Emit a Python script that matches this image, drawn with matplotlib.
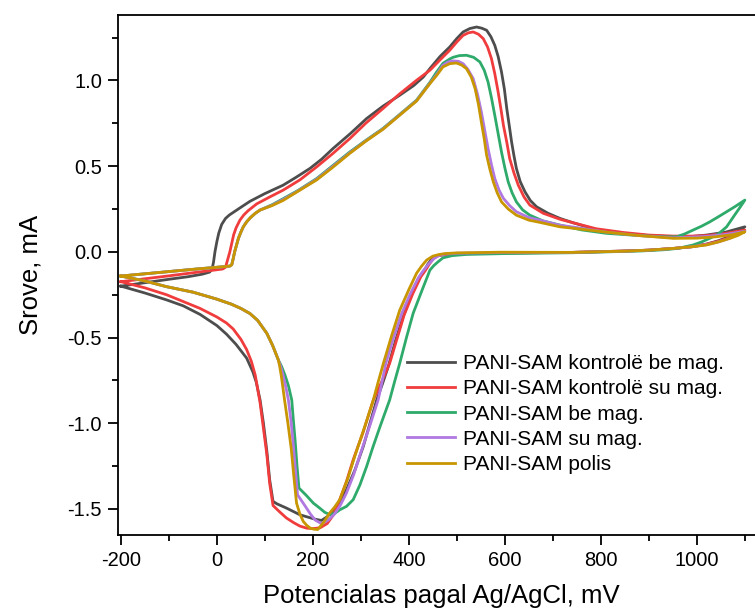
import matplotlib
matplotlib.use("Agg")
import matplotlib.pyplot as plt
from matplotlib.ticker import MultipleLocator, FormatStrFormatter

plt.rcParams["font.family"] = ["Liberation Sans", "DejaVu Sans"]
plt.rcParams["axes.unicode_minus"] = False

# potential (mV) / current (mA); anodic sweep then cathodic sweep
k_x = [-200, -150, -100, -60, -30, -15, -10, -7, -4, 0, 4, 10, 18, 26, 34, 50, 69, 100, 138, 165, 194, 218, 242,
       278, 312, 346, 381, 410, 430, 444, 465, 485, 500, 513, 527, 541, 552, 562, 571, 579, 586, 593, 599, 604,
       609, 614, 619, 624, 632, 642, 653, 666, 690, 715, 742, 790, 847, 900, 951, 990, 1020, 1060, 1100,
       1085, 1069, 1045, 1020, 990, 951, 900, 850, 742, 600, 500, 475, 460, 450, 440, 432, 423, 405, 388, 372,
       357, 345, 333, 320, 305, 288, 270, 256, 243, 230, 218, 205, 190, 173, 145, 125, 117, 110, 104, 97, 90,
       82, 75, 62, 40, 20, 0, -35, -70, -105, -150, -200]
k_y = [-0.20, -0.18, -0.16, -0.145, -0.13, -0.118, -0.10, -0.06, 0.0, 0.06, 0.11, 0.16, 0.195, 0.215, 0.23, 0.26,
       0.295, 0.34, 0.389, 0.435, 0.487, 0.54, 0.603, 0.69, 0.778, 0.85, 0.914, 0.97, 1.02, 1.07, 1.14, 1.195,
       1.245, 1.283, 1.303, 1.312, 1.305, 1.293, 1.255, 1.205, 1.14, 1.05, 0.95, 0.836, 0.74, 0.642, 0.56,
       0.487, 0.41, 0.35, 0.30, 0.263, 0.225, 0.195, 0.17, 0.13, 0.108, 0.095, 0.088, 0.09, 0.098, 0.115, 0.146,
       0.115, 0.09, 0.065, 0.045, 0.03, 0.02, 0.01, 0.005, -0.003, -0.006, -0.012, -0.016, -0.022, -0.035,
       -0.07, -0.11, -0.145, -0.25, -0.378, -0.52, -0.67, -0.77, -0.864, -0.99, -1.136, -1.27, -1.388, -1.46,
       -1.505, -1.545, -1.567, -1.56, -1.548, -1.534, -1.495, -1.47, -1.456, -1.33, -1.16, -1.0, -0.864, -0.76,
       -0.70, -0.62, -0.54, -0.48, -0.43, -0.365, -0.315, -0.28, -0.24, -0.20]

r_x = [-200, -150, -100, -50, -10, 12, 18, 22, 25, 27, 31, 35, 40, 48, 56, 65, 83, 110, 138, 173, 208, 240, 277,
       310, 346, 380, 416, 444, 465, 485, 500, 513, 524, 534, 545, 555, 564, 572, 579, 586, 592, 597, 604, 610,
       619, 628, 640, 652, 680, 715, 742, 790, 847, 900, 951, 990, 1020, 1060, 1100,
       1085, 1069, 1045, 1020, 990, 951, 900, 850, 742, 600, 500, 475, 462, 452, 443, 434, 425, 408, 390, 375,
       360, 343, 326, 305, 284, 270, 256, 243, 230, 215, 200, 187, 173, 160, 145, 130, 117, 110, 104, 97, 90,
       85, 80, 72, 62, 50, 34, 20, 0, -35, -70, -105, -150, -200]
r_y = [-0.174, -0.157, -0.14, -0.122, -0.108, -0.10, -0.09, -0.05, -0.02, 0.0, 0.05, 0.10, 0.14, 0.185, 0.215,
       0.24, 0.28, 0.32, 0.36, 0.42, 0.496, 0.57, 0.661, 0.75, 0.836, 0.92, 1.001, 1.06, 1.12, 1.176, 1.225,
       1.263, 1.278, 1.283, 1.27, 1.244, 1.195, 1.128, 1.04, 0.933, 0.83, 0.739, 0.64, 0.545, 0.46, 0.389,
       0.32, 0.273, 0.225, 0.19, 0.17, 0.135, 0.113, 0.098, 0.092, 0.092, 0.095, 0.108, 0.127,
       0.105, 0.085, 0.062, 0.045, 0.03, 0.02, 0.01, 0.005, -0.003, -0.006, -0.012, -0.016, -0.022, -0.035,
       -0.07, -0.11, -0.145, -0.245, -0.37, -0.51, -0.65, -0.76, -0.864, -1.05, -1.213, -1.34, -1.446, -1.534,
       -1.585, -1.61, -1.615, -1.612, -1.60, -1.58, -1.553, -1.515, -1.48, -1.35, -1.18, -1.03, -0.88, -0.80,
       -0.72, -0.64, -0.57, -0.51, -0.45, -0.415, -0.38, -0.33, -0.29, -0.25, -0.21, -0.174]

g_x = [-200, -150, -100, -50, 0, 20, 27, 31, 34, 37, 41, 45, 50, 55, 62, 70, 80, 90, 115, 138, 170, 208, 240,
       277, 310, 346, 380, 416, 444, 458, 471, 485, 492, 505, 520, 535, 548, 557, 565, 572, 579, 586, 593, 600,
       607, 615, 624, 637, 652, 680, 715, 760, 812, 880, 930, 958, 975, 992, 1010, 1027, 1045, 1062, 1080, 1100,
       1090, 1080, 1062, 1045, 1027, 1010, 992, 960, 930, 882, 742, 600, 520, 490, 471, 460, 452, 444, 428,
       409, 395, 381, 370, 360, 340, 325, 312, 298, 284, 270, 256, 246, 236, 225, 212, 201, 186, 171, 167, 163,
       159, 156, 149, 142, 135, 128, 116, 104, 85, 69, 50, 30, -1, -50, -105, -150, -200]
g_y = [-0.141, -0.128, -0.115, -0.102, -0.09, -0.085, -0.083, -0.075, -0.04, 0.0, 0.04, 0.08, 0.115, 0.146,
       0.175, 0.20, 0.225, 0.244, 0.275, 0.31, 0.36, 0.428, 0.50, 0.583, 0.65, 0.72, 0.80, 0.885, 0.99, 1.05,
       1.10, 1.125, 1.135, 1.145, 1.147, 1.135, 1.108, 1.06, 0.991, 0.90, 0.797, 0.69, 0.583, 0.49, 0.408,
       0.345, 0.292, 0.245, 0.214, 0.18, 0.156, 0.128, 0.108, 0.095, 0.088, 0.088, 0.105, 0.127, 0.15, 0.175,
       0.205, 0.234, 0.265, 0.302,
       0.26, 0.22, 0.146, 0.105, 0.079, 0.058, 0.04, 0.02, 0.012, 0.005, -0.005, -0.01, -0.015, -0.022,
       -0.035, -0.06, -0.08, -0.106, -0.22, -0.358, -0.50, -0.65, -0.76, -0.864, -1.019, -1.14, -1.252, -1.36,
       -1.446, -1.485, -1.505, -1.525, -1.534, -1.52, -1.49, -1.466, -1.42, -1.378, -1.25, -1.1, -0.97, -0.864,
       -0.78, -0.72, -0.67, -0.63, -0.545, -0.475, -0.40, -0.36, -0.33, -0.305, -0.275, -0.235, -0.203, -0.17,
       -0.141]

p_x = [-200, -150, -100, -50, 0, 20, 27, 31, 34, 37, 41, 45, 50, 55, 62, 70, 80, 90, 115, 138, 170, 208, 240,
       277, 310, 346, 380, 416, 444, 458, 471, 482, 492, 503, 513, 523, 534, 543, 551, 558, 565, 572, 579, 588,
       597, 610, 624, 650, 673, 715, 742, 812, 880, 951, 1020, 1060, 1100,
       1085, 1069, 1045, 1020, 990, 951, 900, 850, 742, 590, 500, 475, 462, 452, 440, 430, 420, 402, 385, 368,
       352, 344, 336, 318, 300, 285, 270, 257, 245, 232, 218, 205, 195, 182, 168, 164, 160, 155, 149, 143, 138,
       133, 128, 116, 104, 85, 69, 50, 30, -1, -50, -105, -150, -200]
p_y = [-0.141, -0.128, -0.115, -0.102, -0.09, -0.085, -0.083, -0.075, -0.04, 0.0, 0.04, 0.08, 0.115, 0.146,
       0.175, 0.20, 0.225, 0.244, 0.272, 0.305, 0.357, 0.424, 0.495, 0.578, 0.647, 0.717, 0.797, 0.882, 0.985,
       1.035, 1.089, 1.108, 1.114, 1.112, 1.098, 1.065, 1.011, 0.92, 0.817, 0.71, 0.603, 0.51, 0.428, 0.36,
       0.312, 0.27, 0.234, 0.20, 0.185, 0.155, 0.145, 0.115, 0.095, 0.082, 0.09, 0.102, 0.12,
       0.10, 0.08, 0.058, 0.042, 0.03, 0.02, 0.01, 0.004, -0.003, -0.004, -0.008, -0.013, -0.022, -0.04,
       -0.075, -0.11, -0.15, -0.25, -0.36, -0.50, -0.65, -0.76, -0.864, -1.02, -1.17, -1.30, -1.407, -1.48,
       -1.53, -1.565, -1.586, -1.565, -1.53, -1.475, -1.417, -1.28, -1.15, -1.0, -0.864, -0.78, -0.72, -0.67,
       -0.63, -0.545, -0.475, -0.40, -0.36, -0.33, -0.305, -0.275, -0.235, -0.203, -0.17, -0.141]

y_x = [-200, -150, -100, -50, 0, 20, 27, 31, 34, 37, 41, 45, 50, 55, 62, 70, 80, 90, 115, 138, 170, 208, 240,
       277, 310, 346, 380, 416, 444, 458, 471, 485, 499, 510, 520, 530, 538, 545, 551, 557, 562, 569, 576, 584,
       593, 607, 624, 650, 673, 715, 742, 812, 880, 951, 1000, 1040, 1075, 1100,
       1085, 1069, 1045, 1020, 990, 951, 900, 850, 742, 590, 500, 475, 462, 450, 437, 426, 416, 400, 381, 364,
       347, 336, 326, 308, 290, 273, 256, 245, 235, 222, 210, 202, 194, 187, 180, 173, 166, 160, 155, 148, 141,
       137, 134, 131, 128, 116, 104, 85, 69, 50, 30, -1, -50, -105, -150, -200]
y_y = [-0.141, -0.128, -0.115, -0.102, -0.09, -0.085, -0.083, -0.075, -0.04, 0.0, 0.04, 0.08, 0.115, 0.146,
       0.175, 0.20, 0.225, 0.244, 0.27, 0.30, 0.355, 0.42, 0.49, 0.575, 0.645, 0.715, 0.795, 0.88, 0.982, 1.03,
       1.079, 1.098, 1.102, 1.09, 1.069, 1.02, 0.953, 0.86, 0.758, 0.66, 0.564, 0.48, 0.408, 0.345, 0.292,
       0.25, 0.214, 0.185, 0.172, 0.146, 0.138, 0.115, 0.095, 0.079, 0.08, 0.088, 0.10, 0.117,
       0.095, 0.079, 0.058, 0.04, 0.03, 0.02, 0.01, 0.004, -0.003, -0.002, -0.006, -0.01, -0.016, -0.025,
       -0.048, -0.085, -0.125, -0.22, -0.34, -0.49, -0.65, -0.76, -0.864, -1.02, -1.17, -1.32, -1.446, -1.49,
       -1.524, -1.58, -1.62, -1.618, -1.611, -1.595, -1.573, -1.53, -1.466, -1.30, -1.15, -1.0, -0.864, -0.78,
       -0.72, -0.67, -0.63, -0.545, -0.475, -0.40, -0.36, -0.33, -0.305, -0.275, -0.235, -0.203, -0.17, -0.141]

series = [
    (k_x, k_y, "PANI-SAM kontrolë be mag.", "#4d4d4d"),
    (r_x, r_y, "PANI-SAM kontrolë su mag.", "#f03c3c"),
    (g_x, g_y, "PANI-SAM be mag.", "#2eaa6a"),
    (p_x, p_y, "PANI-SAM su mag.", "#b078e0"),
    (y_x, y_y, "PANI-SAM polis", "#c89600"),
]

fig = plt.figure(figsize=(7.55, 6.15), dpi=100)
# right edge of the box sits past the picture border, like the reference crop
ax = fig.add_axes([118 / 755, 80 / 615, 647 / 755, 520 / 615])

for xs, ys, lab, col in series:
    ax.plot(xs, ys, color=col, lw=2.0, label=lab, solid_joinstyle="round")

ax.set_xlim(-206, 1142)
ax.set_ylim(-1.652, 1.382)

ax.xaxis.set_major_locator(MultipleLocator(200))
ax.xaxis.set_minor_locator(MultipleLocator(100))
ax.yaxis.set_major_locator(MultipleLocator(0.5))
ax.yaxis.set_minor_locator(MultipleLocator(0.25))
ax.yaxis.set_major_formatter(FormatStrFormatter("%.1f"))

ax.tick_params(which="both", direction="out", top=False, right=False, width=1.3, labelsize=14.5)
ax.tick_params(which="major", length=7.5, pad=4)
ax.tick_params(which="minor", length=4.2)
for s in ax.spines.values():
    s.set_linewidth(1.3)

ax.set_xlabel("Potencialas pagal Ag/AgCl, mV", fontsize=18.5, labelpad=10)
ax.set_ylabel("Srove, mA", fontsize=18.5, labelpad=18)

ax.legend(loc="upper left", bbox_to_anchor=(407 / 755, 1 - 354 / 615), bbox_transform=fig.transFigure,
          frameon=False, fontsize=15, handlelength=2.3, handletextpad=0.4, labelspacing=0.3,
          borderpad=0, borderaxespad=0)

plt.savefig("out.png", dpi=100)
